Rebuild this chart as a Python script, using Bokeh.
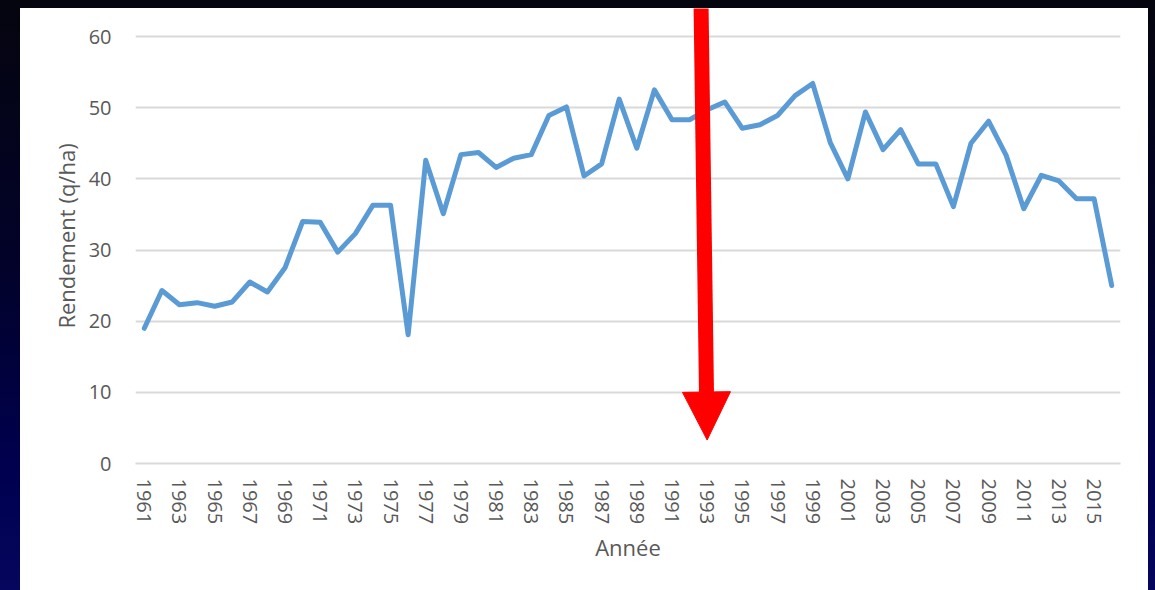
from bokeh.plotting import figure
from bokeh.models import Range1d, FixedTicker, Arrow, NormalHead, GlobalInlineStyleSheet
from bokeh.embed import file_html
from bokeh.resources import INLINE

years = list(range(1961, 2017))
yields = [19.0, 24.3, 22.3, 22.6, 22.1, 22.7, 25.5, 24.1, 27.5, 34.0,
          33.9, 29.7, 32.3, 36.3, 36.3, 18.1, 42.6, 35.1, 43.4, 43.7,
          41.6, 42.9, 43.4, 48.9, 50.1, 40.4, 42.1, 51.2, 44.3, 52.5,
          48.3, 48.3, 49.7, 50.8, 47.1, 47.6, 48.9, 51.7, 53.4, 45.1,
          40.0, 49.4, 44.1, 46.9, 42.1, 42.1, 36.1, 45.0, 48.1, 43.3,
          35.8, 40.5, 39.7, 37.2, 37.2, 25.0]
x_tick_years = list(range(1961, 2016, 2))
y_ticks = [0, 10, 20, 30, 40, 50, 60]
arrow_year = 1993

FONT = "Open Sans"
GRAY = "#595959"

# frame spans the full panel height so the arrow can start at the panel's top edge;
# the top gridline (60) sits 28px below it, as in the reference
p = figure(width=1128, height=582, output_backend="svg", toolbar_location=None,
           x_range=Range1d(years[0] - 0.5, years[-1] + 0.5),
           y_range=Range1d(0, 60 + 28 * 60 / 427),
           min_border_left=115, min_border_right=28, min_border_top=0, min_border_bottom=127,
           background_fill_color="white", border_fill_color="white")
p.outline_line_color = None
p.styles = {"background-color": "white"}

p.xaxis.ticker = FixedTicker(ticks=x_tick_years)
p.yaxis.ticker = FixedTicker(ticks=y_ticks)
p.xaxis.major_label_orientation = "vertical"
for ax in (p.xaxis, p.yaxis):
    ax.major_tick_line_color = None
    ax.minor_tick_line_color = None
    ax.major_label_text_font = FONT
    ax.major_label_text_font_size = "20px"
    ax.major_label_text_color = GRAY
    ax.axis_label_text_font = FONT
    ax.axis_label_text_font_size = "22px"
    ax.axis_label_text_font_style = "normal"
    ax.axis_label_text_color = GRAY
p.yaxis.axis_line_color = None
p.xaxis.axis_line_color = "#d9d9d9"
p.xaxis.axis_line_width = 2
p.xaxis.major_label_standoff = 9
p.yaxis.major_label_standoff = 18
p.xaxis.axis_label = "Année"
p.yaxis.axis_label = "Rendement (q/ha)"
p.xaxis.axis_label_standoff = 5
p.yaxis.axis_label_standoff = 5

p.xgrid.grid_line_color = None
p.ygrid.grid_line_color = "#d9d9d9"
p.ygrid.grid_line_width = 2

p.line(years, yields, line_color="#5b9bd5", line_width=5, line_join="round", line_cap="round")

head = NormalHead(size=48, fill_color="#ff0000", line_color="#ff0000")
p.add_layout(Arrow(end=head, x_start=arrow_year - 0.35, y_start=p.y_range.end + 1,
                   x_end=arrow_year, y_end=3.3,
                   line_color="#ff0000", line_width=15))

p.stylesheets = [GlobalInlineStyleSheet(css=(
    "html { background: linear-gradient(to bottom, #05050f 0%, #02022a 45%, #000050 80%, #06065e 100%); "
    "min-height: 100%; overflow: hidden; } "
    "body { background: transparent; margin: 8px 7px 0 20px !important; overflow: hidden; }"))]

open("out.html", "w").write(file_html(p, INLINE))
